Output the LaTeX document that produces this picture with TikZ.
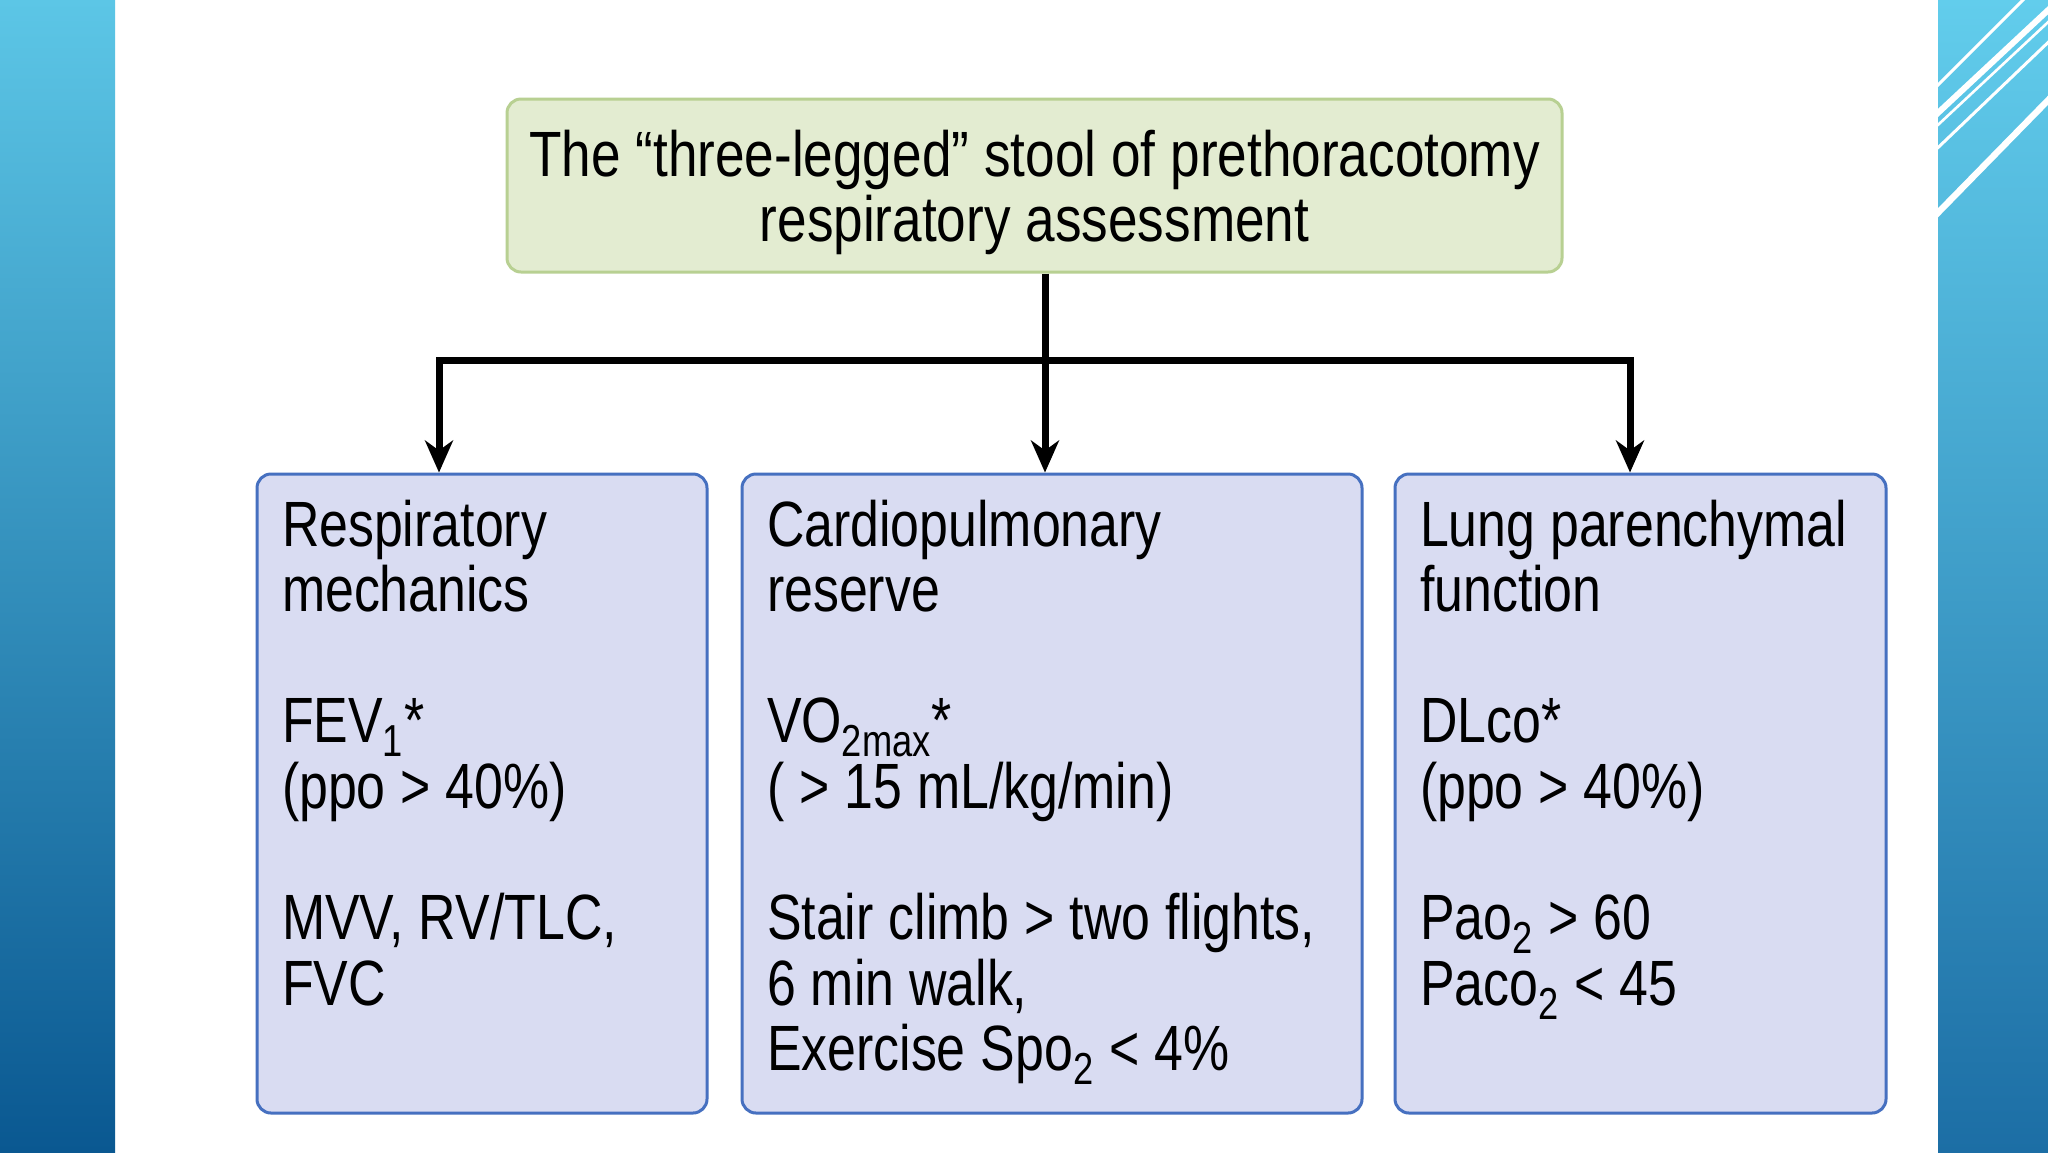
\documentclass[tikz,border=0pt]{standalone}
\usepackage{fontspec}
\setmainfont{Liberation Sans}[FakeStretch=0.81]
\newfontfamily\titlefont{Liberation Sans}[FakeStretch=0.83]
\usepackage{tikz}
\usetikzlibrary{positioning, arrows.meta, shapes}

\definecolor{barlight}{RGB}{92,198,230}
\definecolor{barmid}{RGB}{52,150,198}
\definecolor{bardark}{RGB}{10,88,145}
\definecolor{sidelight}{RGB}{98,205,236}
\definecolor{sidemid}{RGB}{66,165,210}
\definecolor{sidedark}{RGB}{28,110,165}
\definecolor{stoolfill}{RGB}{227,236,209}
\definecolor{stooldraw}{RGB}{184,208,146}
\definecolor{legfill}{RGB}{217,220,242}
\definecolor{legdraw}{RGB}{70,112,192}
\newcommand{\tightspace}{\spaceskip=7.5pt\relax\xspaceskip=7.5pt\relax}

\begin{document}
\begin{tikzpicture}[x=0.5pt, y=-0.5pt, node distance=285pt, >={Stealth[length=16pt, width=14pt, inset=5pt]}]
\tikzstyle{stool}=[draw=stooldraw, fill=stoolfill, line width=1.5pt, rounded corners=7pt, text width=527.5pt, inner sep=0pt, text height=38.5pt, text depth=48pt, align=flush center, font=\titlefont\fontsize{32pt}{32.5pt}\selectfont\tightspace]
\tikzstyle{legbox}=[draw=legdraw, fill=legfill, line width=1.5pt, rounded corners=7pt, inner xsep=12.5pt, inner ysep=0pt, text height=36pt, text depth=283.5pt, align=flush left, font=\fontsize{32pt}{32.8pt}\selectfont\tightspace]
\tikzstyle{leg}=[line width=3.5pt]

\useasboundingbox (0,0) rectangle (2048,1152);
\fill[white] (0,0) rectangle (2048,1152);
\shade[top color=barlight, middle color=barmid, bottom color=bardark] (0,0) rectangle (115,1152);
\shade[top color=sidelight, middle color=sidemid, bottom color=sidedark] (1938,0) rectangle (2048,1152);
\begin{scope}
\clip (1938,0) rectangle (2048,1152);
\draw[white, line width=1.5pt] (1925,98) -- (2030,-7);
\draw[white, line width=3pt] (1925,125) -- (2060,-1);
\draw[white, line width=1.3pt] (1925,137) -- (2060,11);
\draw[white, line width=1.5pt] (1925,160) -- (2060,31);
\draw[white, line width=3.2pt] (1925,226) -- (2060,88);
\end{scope}

\node[stool] (stool) at (1034.5,185.5) {The “three-legged” stool of prethoracotomy\\ respiratory assessment};
\node[legbox, text width=200pt] (mech) at (482,793.5) {Respiratory\\ mechanics\\[32.8pt] FEV\textsubscript{1}*\\ (ppo > 40\%)\\[32.8pt] MVV, RV/TLC,\\ FVC};
\node[legbox, text width=285pt] (reserve) [right of=mech] {Cardiopulmonary\\ reserve\\[32.8pt] VO\textsubscript{2max}*\\ ( > 15 mL/kg/min)\\[32.8pt] Stair climb > two flights,\\ 6 min walk,\\ Exercise Spo\textsubscript{2} < 4\%};
\node[legbox, text width=220.5pt] (lung) [right of=reserve, xshift=9.25pt] {Lung parenchymal\\ function\\[32.8pt] DLco*\\ (ppo > 40\%)\\[32.8pt] Pao\textsubscript{2} > 60\\ Paco\textsubscript{2} < 45};

\coordinate (fork) at (1045,360);
\draw[leg, ->] ([xshift=5.25pt]stool.south) -- ([xshift=-3.5pt]reserve.north);
\draw[leg, <->] ([xshift=-21.5pt]mech.north) |- (fork) -| ([xshift=-5.25pt]lung.north);
\end{tikzpicture}
\end{document}
